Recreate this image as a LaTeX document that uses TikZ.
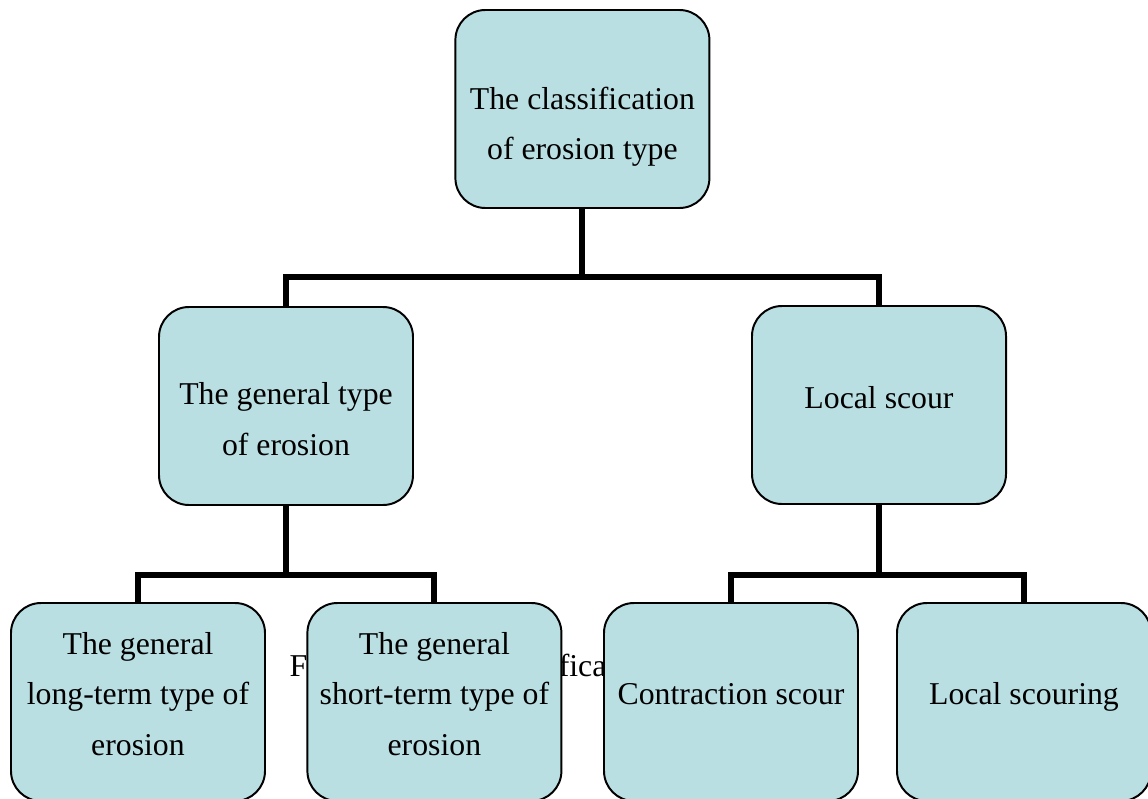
\documentclass[tikz,border=0pt]{standalone}
\usepackage{fontspec}
\setmainfont{Liberation Serif}
\usepackage{tikz}
\definecolor{boxcyan}{RGB}{186,223,227}

\begin{document}
\begin{tikzpicture}[box/.style={draw, line width=1.4pt, fill=boxcyan, rounded corners=0.75cm,
    minimum width=6.35cm, minimum height=4.95cm, align=center, font=\fontsize{22.6}{36}\selectfont},
  link/.style={line width=4.3pt},]
\useasboundingbox (0,0) rectangle (28.7,-19.95);
% caption lying behind the lowest row
\node [anchor=base, font=\fontsize{22.6}{36}\selectfont] (9) at (14.3,-16.9) {Figure 2-1 The classification of erosion type};
\node [box, text height=77pt] (0) at (14.56, -2.725) {The classification\\of erosion type};
\node [box, text height=70.6pt] (1) at (7.15, -10.15) {The general type\\of erosion};
\node [box, text height=5.4pt] (2) at (21.975, -10.125) {Local scour};
\node [box, text height=76pt] (3) at (3.45, -17.55) {The general\\long-term type of\\erosion};
\node [box, text height=76pt] (4) at (10.86, -17.55) {The general\\short-term type of\\erosion};
\node [box, text height=4pt] (5) at (18.275, -17.55) {Contraction scour};
\node [box, text height=8.3pt] (6) at (25.6, -17.55) {Local scouring};
\coordinate (b0) at (0, -6.925);
\coordinate (b1) at (0, -14.375);
 \draw [link] (0.south) -- (0.south |- b0) -| (1.north);
 \draw [link] (0.south |- b0) -| (2.north);
  \draw [link] (1.south) -- (1.south |- b1) -| (3.north);
  \draw [link] (1.south |- b1) -| (4.north);
  \draw [link] (2.south) -- (2.south |- b1) -| (5.north);
  \draw [link] (2.south |- b1) -| (6.north);
\end{tikzpicture}
\end{document}
